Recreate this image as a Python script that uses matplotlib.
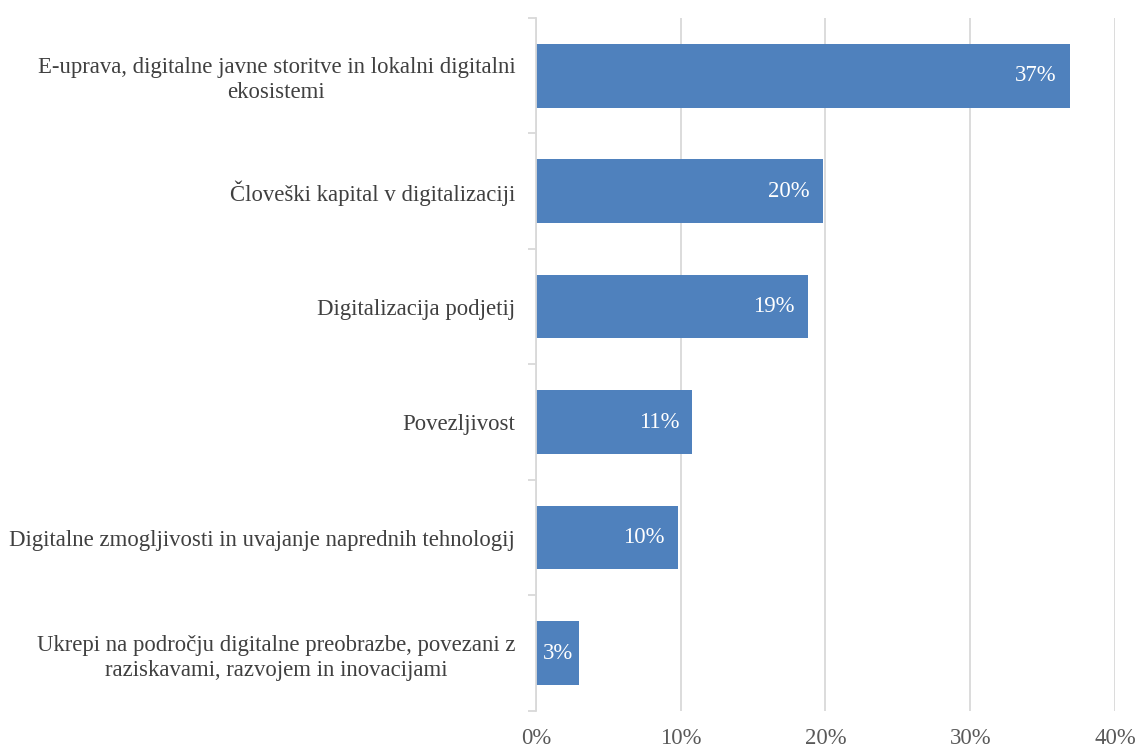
import numpy as np
import matplotlib.pyplot as plt
from matplotlib.ticker import FuncFormatter

categories = [
    "E-uprava, digitalne javne storitve in lokalni digitalni\nekosistemi",
    "Človeški kapital v digitalizaciji",
    "Digitalizacija podjetij",
    "Povezljivost",
    "Digitalne zmogljivosti in uvajanje naprednih tehnologij",
    "Ukrepi na področju digitalne preobrazbe, povezani z\nraziskavami, razvojem in inovacijami",
]
values = [36.9, 19.8, 18.8, 10.8, 9.8, 3.0]
value_labels = ["37%", "20%", "19%", "11%", "10%", "3%"]
x_ticks = [0, 10, 20, 30, 40]

plt.rcParams['font.family'] = ['Liberation Serif', 'DejaVu Serif']
FS = 16.4

fig = plt.figure(figsize=(11.36, 7.44), dpi=100)
ax = fig.add_axes([0.4718, 0.0444, 0.5097, 0.9314])

y = np.arange(len(categories))
bar_color = "#4f81bd"
ax.barh(y, values, height=0.55, color=bar_color, zorder=3)

for yi, v, lab in zip(y, values, value_labels):
    if v < 5:
        ax.text(v / 2, yi, lab, ha="center", va="center", color="white", fontsize=FS, zorder=4)
    else:
        ax.annotate(lab, (v, yi), xytext=(-9.5, 0), textcoords="offset points",
                    ha="right", va="center", color="white", fontsize=FS, zorder=4)

ax.set_xlim(0, 40)
ax.set_ylim(len(categories) - 0.5, -0.5)
ax.set_xticks(x_ticks)
ax.xaxis.set_major_formatter(FuncFormatter(lambda v, p: f"{v:.0f}%"))
ax.grid(axis="x", color="#d9d9d9", linewidth=1.3, zorder=0)
ax.tick_params(axis="x", length=0, pad=12, labelsize=FS, labelcolor="#595959")

ax.set_yticks(y)
ax.set_yticklabels(categories, fontsize=FS, color="#404040", multialignment="center",
                   linespacing=1.25)
ax.tick_params(axis="y", which="major", length=0, pad=15)
ax.set_yticks(np.arange(len(categories) + 1) - 0.5, minor=True)
ax.tick_params(axis="y", which="minor", length=6, color="#d9d9d9", width=1.3)

for side in ["top", "right", "bottom"]:
    ax.spines[side].set_visible(False)
ax.spines["left"].set_color("#d9d9d9")
ax.spines["left"].set_linewidth(1.3)
ax.spines["left"].set_zorder(5)

fig.savefig("out.png", dpi=100)
